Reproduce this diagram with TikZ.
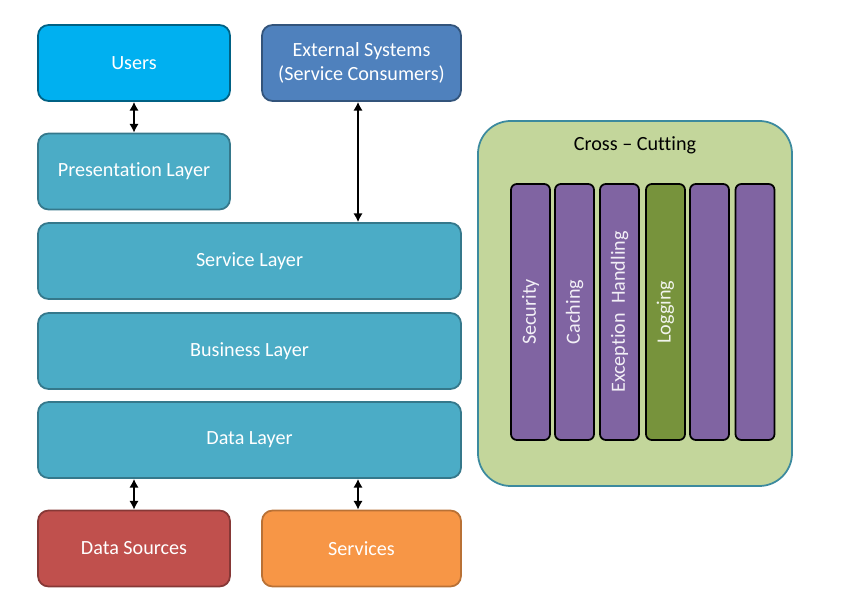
\documentclass[tikz,border=0pt]{standalone}
\usepackage{fontspec}
\setmainfont{Carlito}[Ligatures=NoCommon]
\usetikzlibrary{arrows.meta}
\tikzset{>={Latex[width=2.8mm,length=2.6mm]}}

\definecolor{usersblue}{HTML}{00B0F0}
\definecolor{extblue}{HTML}{4F81BD}
\definecolor{layerteal}{HTML}{4BACC6}
\definecolor{srcred}{HTML}{C0504D}
\definecolor{svcorange}{HTML}{F79646}
\definecolor{crossgreen}{HTML}{C3D69B}
\definecolor{aspectpurple}{HTML}{8064A2}
\definecolor{logggreen}{HTML}{77933C}

\tikzset{
  box/.style={draw,line width=1.5pt,rounded corners=9pt,text=white,align=center,
    inner sep=0pt,font=\fontsize{17.2}{21}\selectfont},
  smallbox/.style={box,minimum width=5.76cm,minimum height=2.28cm},
  layerbox/.style={box,fill=layerteal,draw=layerteal!70!black,
    minimum width=12.69cm,minimum height=2.28cm},
  aspect/.style={draw=black,line width=1.5pt,rounded corners=5pt,fill=aspectpurple,
    minimum width=1.17cm,minimum height=7.68cm,inner sep=0pt},
  aspectlabel/.style={rotate=90,text=white!90!aspectpurple,font=\fontsize{17.2}{21}\selectfont}
}

\begin{document}
\begin{tikzpicture}[x=0.03cm,y=-0.03cm]

  \useasboundingbox (0,0) rectangle (843,601);

  % top row
  \node[smallbox,fill=usersblue,draw=usersblue!55!black] (users) at (134,63) {Users};
  \node[smallbox,minimum width=5.97cm,fill=extblue,draw=extblue!65!black] (ext) at (361.5,63)
    {External Systems\\(Service Consumers)};

  \node[smallbox,fill=layerteal,draw=layerteal!70!black] (pres) at (134,171.5) {Presentation Layer};

  % layers
  \node[layerbox] (svc) at (249.5,261) {Service Layer};
  \node[layerbox] (biz) at (249.5,351) {Business Layer};
  \node[layerbox] (data) at (249.5,440) {Data Layer};

  % bottom row
  \node[smallbox,fill=srcred,draw=srcred!70!black] (dsrc) at (134,548.5) {Data Sources};
  \node[smallbox,minimum width=5.97cm,fill=svcorange,draw=svcorange!75!black] (svcs) at (361.5,548.5) {Services};

  % cross cutting
  \node[draw=layerteal!80!black,line width=1.5pt,fill=crossgreen,rounded corners=28pt,
    minimum width=9.42cm,minimum height=10.95cm,inner sep=0pt] (cross) at (635,303.5) {};
  \node[font=\fontsize{17.2}{21}\selectfont] (crosstitle) at (635,145) {Cross -- Cutting};

  \foreach \x/\name in {530.5/sec,574.5/cach,619.5/exc,709.5/extra1,755/extra2}
    \node[aspect] (\name) at (\x,312) {};
  \node[aspect,fill=logggreen] (logg) at (665.5,312) {};

  \node[aspectlabel] at (sec) {Security};
  \node[aspectlabel] at (cach) {Caching};
  \node[aspectlabel] at (exc) {Exception\ \ Handling};
  \node[aspectlabel,text=white!90!logggreen] at (logg) {Logging};

  % connectors
  \draw[<->,line width=1.5pt] (users) -- (pres);
  \draw[<->,line width=1.5pt] ([xshift=-3.5*0.03cm]ext.south) -- ([xshift=-3.5*0.03cm]ext.south |- svc.north);
  \draw[<->,line width=1.5pt] (data.south -| dsrc) -- (dsrc);
  \draw[<->,line width=1.5pt] ([xshift=-3.5*0.03cm]data.south -| svcs) -- ([xshift=-3.5*0.03cm]svcs.north);

\end{tikzpicture}
\end{document}
